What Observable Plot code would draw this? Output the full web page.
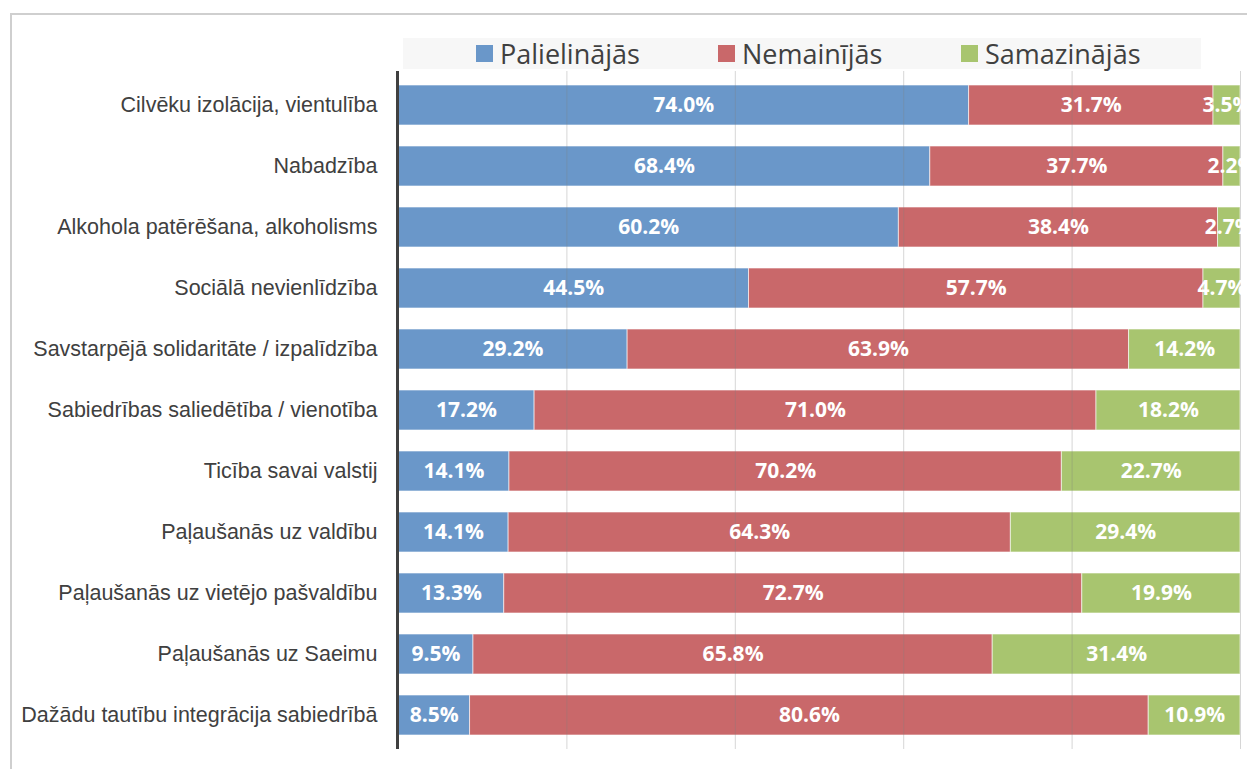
<!DOCTYPE html>
<html>
<head>
<meta charset="utf-8">
<script src="https://cdn.jsdelivr.net/npm/d3@7"></script>
<script src="https://cdn.jsdelivr.net/npm/@observablehq/plot@0.6"></script>
<style>
  html, body { margin: 0; padding: 0; background: #fff; overflow: hidden; }
  #wrap { position: relative; width: 1247px; height: 769px; overflow: hidden; }
  #frame { position: absolute; left: 10px; top: 13px; width: 1400px; height: 900px; border: 2px solid #cfcfcf; box-sizing: border-box; }
  #chart { position: absolute; left: 0; top: 0; }
  #legend { position: absolute; left: 403px; top: 38px; width: 798px; height: 31px; background: #f7f7f7; }
  .item { position: absolute; top: 0; height: 31px; display: flex; align-items: center; font-family: "Open Sans", sans-serif; font-size: 27px; color: #404040; white-space: nowrap; }
  .sw { width: 17px; height: 17px; margin-right: 7px; }
</style>
</head>
<body>
<div id="wrap">
  <div id="frame"></div>
  <div id="chart"></div>
  <div id="legend"></div>
</div>
<script>
const categories = [
  "Cilvēku izolācija, vientulība",
  "Nabadzība",
  "Alkohola patērēšana, alkoholisms",
  "Sociālā nevienlīdzība",
  "Savstarpējā solidaritāte / izpalīdzība",
  "Sabiedrības saliedētība / vienotība",
  "Ticība savai valstij",
  "Paļaušanās uz valdību",
  "Paļaušanās uz vietējo pašvaldību",
  "Paļaušanās uz Saeimu",
  "Dažādu tautību integrācija sabiedrībā"
];
const seriesNames = ["Palielinājās", "Nemainījās", "Samazinājās"];
const increased = [74.0, 68.4, 60.2, 44.5, 29.2, 17.2, 14.1, 14.1, 13.3, 9.5, 8.5];
const unchanged = [31.7, 37.7, 38.4, 57.7, 63.9, 71.0, 70.2, 64.3, 72.7, 65.8, 80.6];
const decreased = [3.5, 2.2, 2.7, 4.7, 14.2, 18.2, 22.7, 29.4, 19.9, 31.4, 10.9];
const colors = ["#6a97c9", "#c9686a", "#a8c56f"];
const gridTicks = [0.2, 0.4, 0.6, 0.8, 1.0];

const seriesValues = [increased, unchanged, decreased];
const data = [];
categories.forEach((c, i) => {
  seriesNames.forEach((s, j) => data.push({cat: c, series: s, value: seriesValues[j][i]}));
});

const chart = Plot.plot({
  width: 1247,
  height: 769,
  marginLeft: 398,
  marginRight: 7,
  marginTop: 71,
  marginBottom: 20,
  style: {fontFamily: "'Liberation Sans', Arial, sans-serif", fontSize: "21.5px", color: "#404040", background: "transparent", overflow: "hidden"},
  x: {domain: [0, 1], axis: null},
  y: {domain: categories, paddingInner: 0.35, paddingOuter: 0.175, label: null},
  color: {domain: seriesNames, range: colors},
  marks: [
    Plot.barX(data, Plot.stackX({x: "value", y: "cat", z: "series", fill: "series", offset: "normalize", order: null, stroke: "white", strokeOpacity: 0.6, strokeWidth: 1})),
    Plot.ruleX(gridTicks, {stroke: "#808080", strokeOpacity: 0.32, strokeWidth: 1}),
    Plot.text(data, Plot.stackX({x: "value", y: "cat", z: "series", offset: "normalize", order: null,
      text: d => d.value.toFixed(1) + "%", fill: "white", fontFamily: "'Open Sans', sans-serif", fontWeight: "bold", fontSize: 21})),
    Plot.ruleX([0], {stroke: "#404040", strokeWidth: 3, dx: -1}),
    Plot.axisY({tickSize: 0, tickPadding: 21, fontSize: 21.5, fill: "#404040", label: null})
  ]
});
document.getElementById("chart").appendChild(chart);

const legendX = [476, 718, 961];
const legend = document.getElementById("legend");
seriesNames.forEach((s, j) => {
  const it = document.createElement("div");
  it.className = "item";
  it.style.left = (legendX[j] - 403) + "px";
  const sw = document.createElement("div");
  sw.className = "sw";
  sw.style.background = colors[j];
  it.appendChild(sw);
  it.appendChild(document.createTextNode(s));
  legend.appendChild(it);
});
</script>
</body>
</html>
